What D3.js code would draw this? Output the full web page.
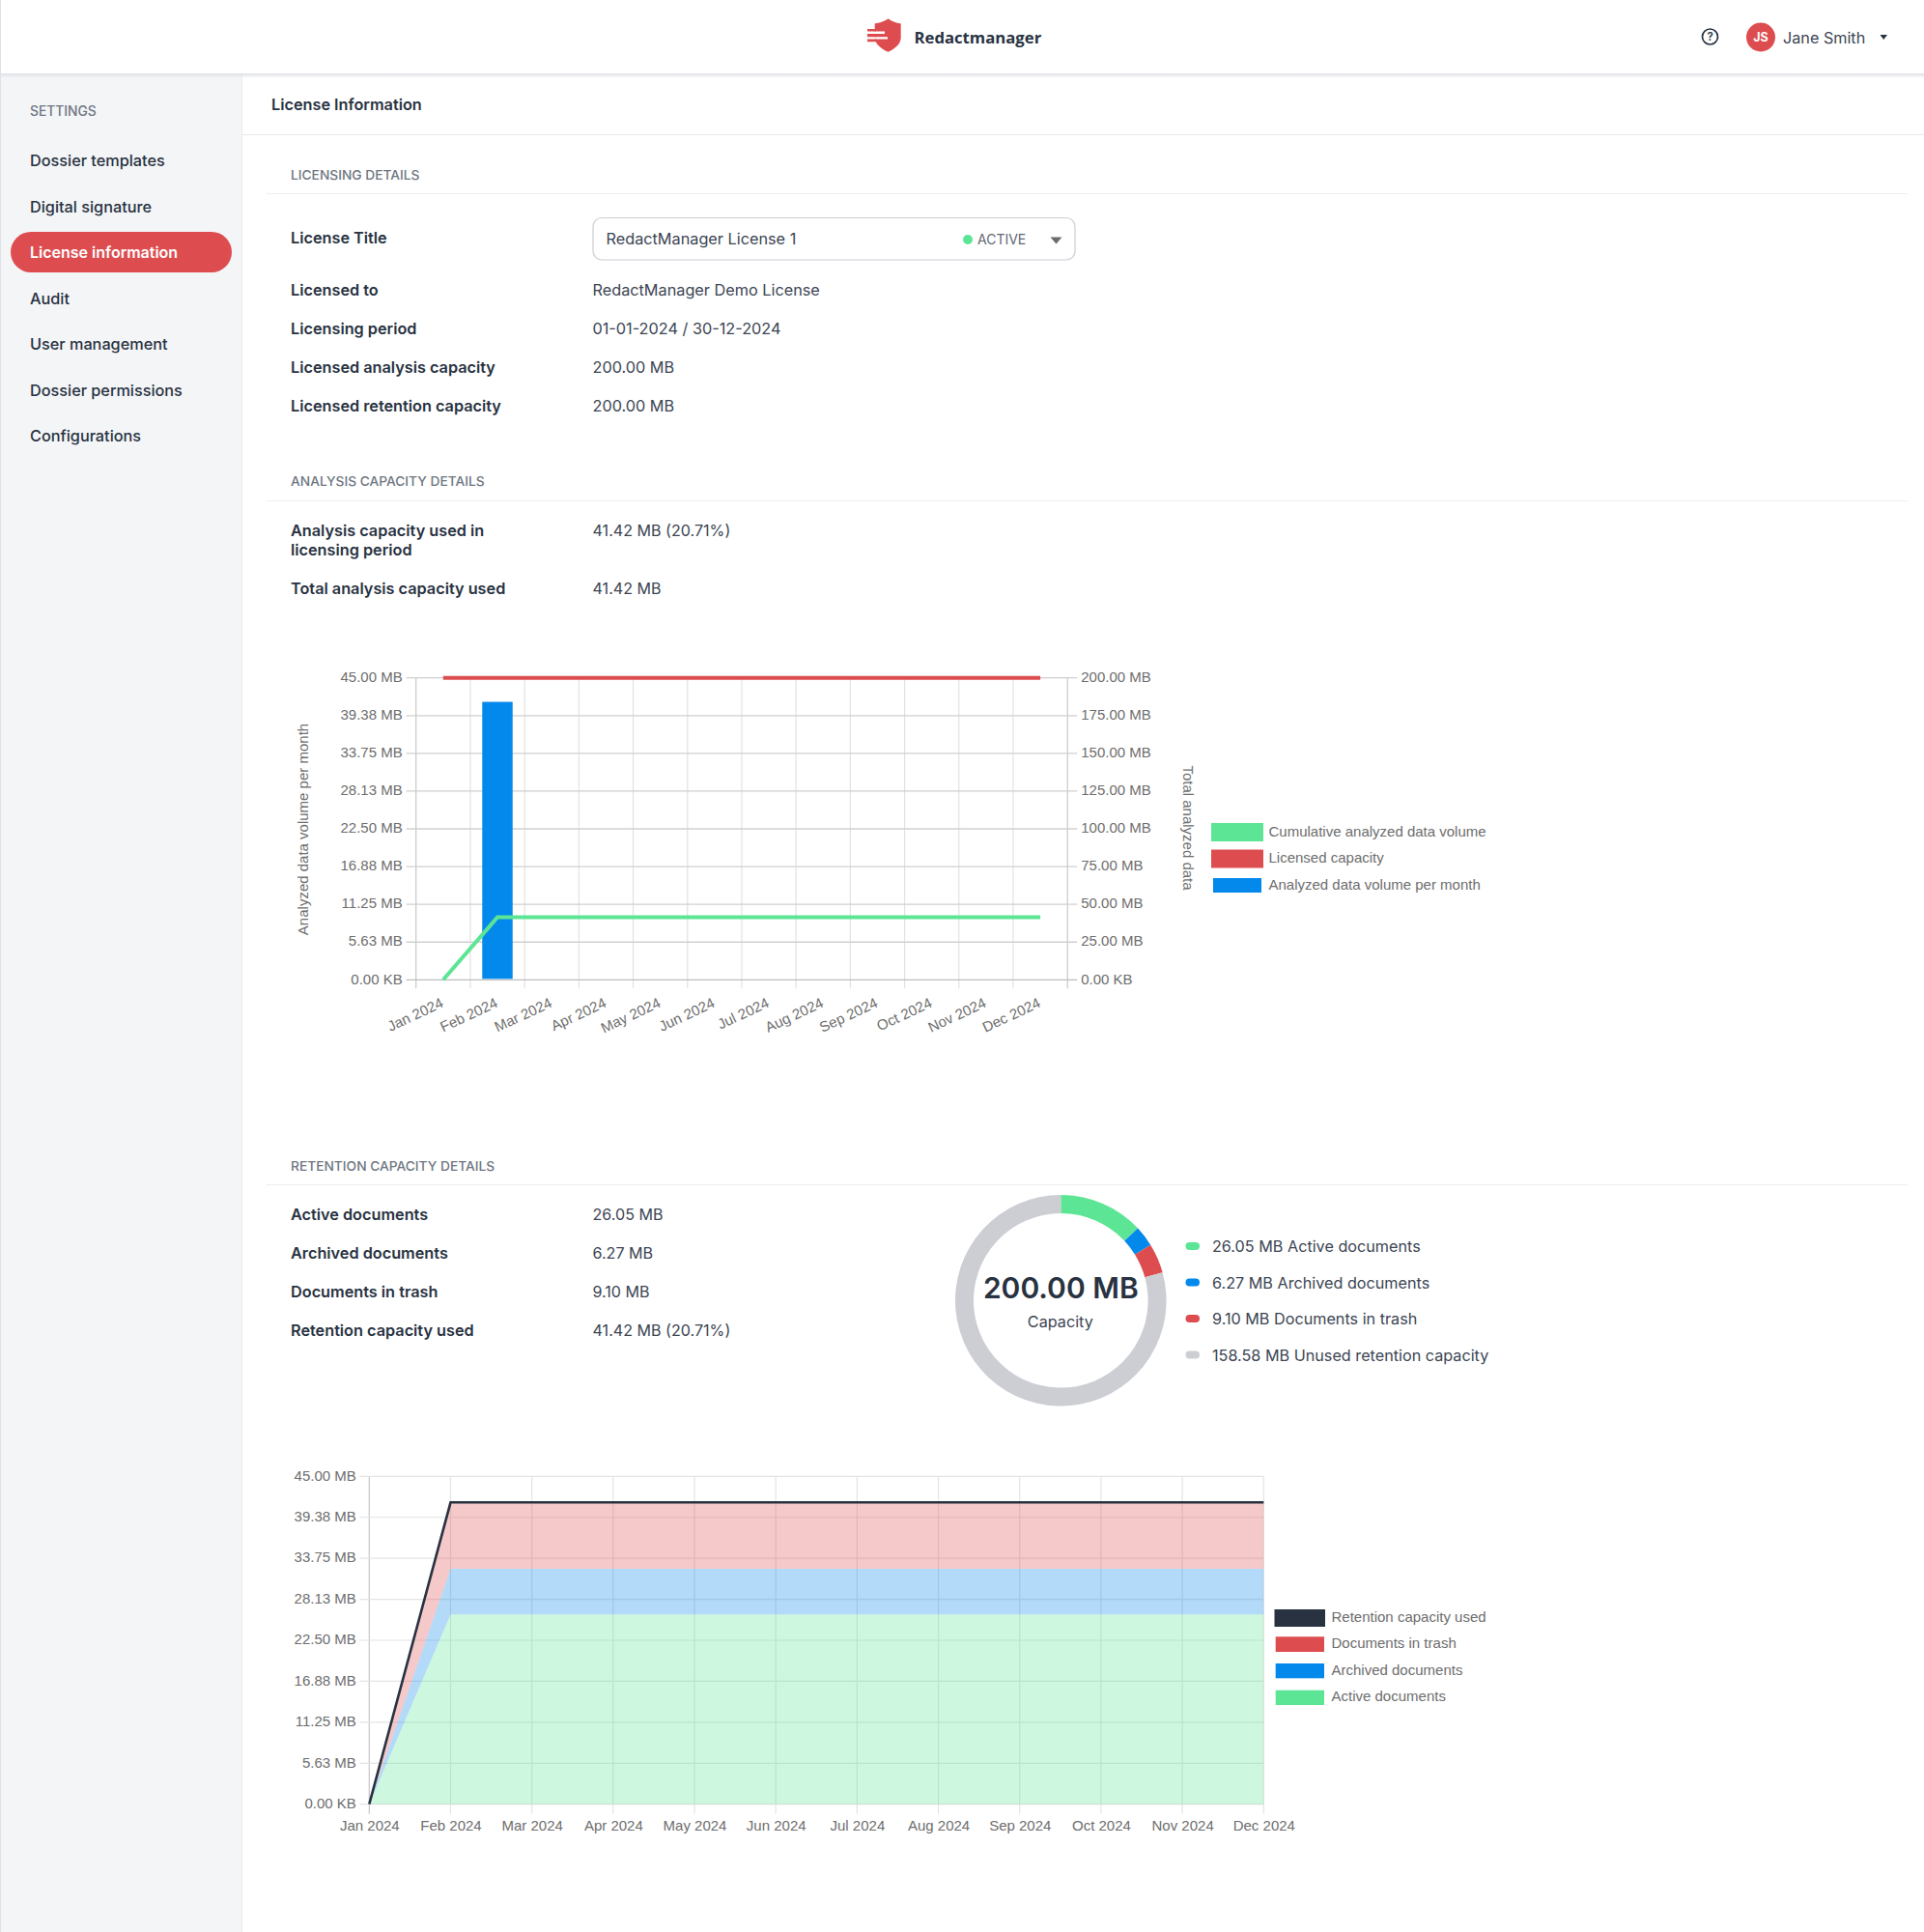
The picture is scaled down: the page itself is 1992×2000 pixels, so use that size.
<!DOCTYPE html>
<html><head><meta charset="utf-8">
<script src="https://cdn.jsdelivr.net/npm/d3@7"></script>
<style>
html,body{margin:0;padding:0;background:#fff;overflow:hidden}
svg{display:block}
text{font-family:Inter,"Noto Sans",sans-serif;fill:#283241}
.ct text,text.ct{font-family:"Liberation Sans",Arial,sans-serif;fill:#6e6e6e;font-size:15px}
.domain{display:none}
</style></head><body>
<svg id="page" width="1992" height="2000"></svg>
<script>
// ---------- chart data ----------
const months=["Jan 2024","Feb 2024","Mar 2024","Apr 2024","May 2024","Jun 2024","Jul 2024","Aug 2024","Sep 2024","Oct 2024","Nov 2024","Dec 2024"];
const leftTickValues=[0,5.625,11.25,16.875,22.5,28.125,33.75,39.375,45];
const leftTickLabels=["0.00 KB","5.63 MB","11.25 MB","16.88 MB","22.50 MB","28.13 MB","33.75 MB","39.38 MB","45.00 MB"];
const rightTickValues=[0,25,50,75,100,125,150,175,200];
const rightTickLabels=["0.00 KB","25.00 MB","50.00 MB","75.00 MB","100.00 MB","125.00 MB","150.00 MB","175.00 MB","200.00 MB"];
const monthlyVolume=[0,41.42,0,0,0,0,0,0,0,0,0,0];
const cumulativeVolume=[0,41.42,41.42,41.42,41.42,41.42,41.42,41.42,41.42,41.42,41.42,41.42];
const licensedCapacity=[200,200,200,200,200,200,200,200,200,200,200,200];
const activeDocs=[0,26.05,26.05,26.05,26.05,26.05,26.05,26.05,26.05,26.05,26.05,26.05];
const archivedDocs=[0,6.27,6.27,6.27,6.27,6.27,6.27,6.27,6.27,6.27,6.27,6.27];
const trashDocs=[0,9.10,9.10,9.10,9.10,9.10,9.10,9.10,9.10,9.10,9.10,9.10];
const retentionUsed=[0,41.42,41.42,41.42,41.42,41.42,41.42,41.42,41.42,41.42,41.42,41.42];
const donutLabels=["26.05 MB Active documents","6.27 MB Archived documents","9.10 MB Documents in trash","158.58 MB Unused retention capacity"];
const donutValues=[26.05,6.27,9.10,158.58];
const legend1Labels=["Cumulative analyzed data volume","Licensed capacity","Analyzed data volume per month"];
const legend2Labels=["Retention capacity used","Documents in trash","Archived documents","Active documents"];
// ---------- page text ----------
const navItems=["Dossier templates","Digital signature","License information","Audit","User management","Dossier permissions","Configurations"];
const licenseRows=[["Licensed to","RedactManager Demo License"],["Licensing period","01-01-2024 / 30-12-2024"],["Licensed analysis capacity","200.00 MB"],["Licensed retention capacity","200.00 MB"]];
const retentionRows=[["Active documents","26.05 MB"],["Archived documents","6.27 MB"],["Documents in trash","9.10 MB"],["Retention capacity used","41.42 MB (20.71%)"]];

const GREEN="#5ce594",RED="#dd4d50",BLUE="#0389ec",DARK="#283241",GREY="#ccced3",SOFT="#3c4553";
const BODY=16.25;
const svg=d3.select("#page");
function T(g,x,y,s,o={}){
  return g.append("text").attr("x",x).attr("y",y).attr("dy",".36em")
    .attr("font-size",o.size||BODY).attr("font-weight",o.w||400)
    .attr("text-anchor",o.a||"start").style("fill",o.fill||(o.w?DARK:SOFT)).text(s);
}
// ---------- chrome ----------
const defs=svg.append("defs");
const f=defs.append("linearGradient").attr("id","shadow").attr("x1",0).attr("x2",0).attr("y1",0).attr("y2",1);
f.append("stop").attr("offset",0).attr("stop-color","#dfe1e6");
f.append("stop").attr("offset",1).attr("stop-color","#dfe1e6").attr("stop-opacity",0);
svg.append("rect").attr("x",0).attr("y",76).attr("width",250.5).attr("height",1924).attr("fill","#f4f5f7");
svg.append("rect").attr("x",250).attr("y",76).attr("width",1).attr("height",1924).attr("fill","#e9ebee");
svg.append("rect").attr("x",0).attr("y",76).attr("width",1992).attr("height",5).attr("fill","url(#shadow)");
svg.append("rect").attr("x",0).attr("y",0).attr("width",1).attr("height",2000).attr("fill","#dfe1e6");
// header
const hd=svg.append("g");
hd.append("path").attr("fill",RED).attr("d","M919.5 19.3c3 2.6 8 4.4 13.2 5.2V39c0 6.5-6 11.5-13.2 14.7C912 50.5 906 45.5 905.7 39V24.5c5-.8 10.8-2.6 13.8-5.2z");
hd.append("path").attr("fill","#fff").attr("d","M898 32.6h18v2.4h-18zM898 38.2h21v2.4h-21z");
hd.append("path").attr("fill",RED).attr("d","M898 30h9v2.6h-9zM898 35h9v3.2h-9zM898 40.6h9v2.6h-9z");
T(hd,946.5,39,"Redactmanager",{size:16.7,w:700}).style("font-family","'Open Sans'");
hd.append("circle").attr("cx",1770.5).attr("cy",38).attr("r",8).attr("fill","none").attr("stroke",DARK).attr("stroke-width",1.7);
T(hd,1770.5,38,"?",{size:11.5,w:600,a:"middle"});
hd.append("circle").attr("cx",1823).attr("cy",38.5).attr("r",15).attr("fill",RED);
T(hd,1823,38.5,"JS",{size:12.5,w:700,a:"middle",fill:"#fff"});
T(hd,1846,39,"Jane Smith",{size:16.2});
hd.append("path").attr("fill",DARK).attr("d","M1946.5 36h7.5l-3.75 5z");
// sidebar
const sb=svg.append("g");
T(sb,31,115,"SETTINGS",{size:13.8,w:500,fill:"#6e7682"});
sb.append("rect").attr("x",11).attr("y",240).attr("width",229).attr("height",42).attr("rx",21).attr("fill",RED);
const navY=[166,214,261,309,356.5,404,451];
navItems.forEach((s,i)=>T(sb,31,navY[i],s,i==2?{size:16,w:600,fill:"#fff"}:{size:BODY,w:500}));
// main headers
const mn=svg.append("g");
T(mn,281,108,"License Information",{w:600});
mn.append("rect").attr("x",251).attr("y",139).attr("width",1741).attr("height",1).attr("fill","#e6e8eb");
function section(y,lineY,s){T(mn,301,y,s,{size:13.75,w:500,fill:"#6e7682"});mn.append("rect").attr("x",276).attr("y",lineY).attr("width",1699).attr("height",1).attr("fill","#eceef0");}
section(181,200,"LICENSING DETAILS");
section(498,518,"ANALYSIS CAPACITY DETAILS");
section(1207,1226,"RETENTION CAPACITY DETAILS");
T(mn,301,246,"License Title",{w:600});
mn.append("rect").attr("x",614).attr("y",225.5).attr("width",499).attr("height",43.5).attr("rx",9).attr("fill","#fff").attr("stroke","#ccced3").attr("stroke-width",1.2);
T(mn,627.5,247,"RedactManager License 1",{});
mn.append("circle").attr("cx",1002).attr("cy",248).attr("r",5).attr("fill",GREEN);
T(mn,1012,247.5,"ACTIVE",{size:14,w:400,fill:"#5f6773"});
mn.append("path").attr("fill","#6b6b6b").attr("d","M1087.5 245.5h12l-6 7z");
const rowY1=[300,340,380,420];
licenseRows.forEach((r,i)=>{T(mn,301,rowY1[i],r[0],{w:600});T(mn,613.5,rowY1[i],r[1],{});});
T(mn,301,549,"Analysis capacity used in",{w:600});
T(mn,301,569.5,"licensing period",{w:600});
T(mn,613.5,549,"41.42 MB (20.71%)",{size:16.1});
T(mn,301,609.5,"Total analysis capacity used",{w:600});
T(mn,613.5,609.5,"41.42 MB",{size:16.1});
const rowY2=[1257,1297,1337,1377.5];
retentionRows.forEach((r,i)=>{T(mn,301,rowY2[i],r[0],{w:600});T(mn,613.5,rowY2[i],r[1],{size:16.1});});

// ---------- chart 1: bars + lines ----------
(function(){
  const L=430.7,R=1105.2,Tp=701.7,B=1014.3;
  const g=svg.append("g").attr("class","ct");
  const x=d3.scaleBand().domain(months).range([L,R]).paddingInner(.44).paddingOuter(.22);
  const edge=d3.scalePoint().domain(d3.range(13)).range([L,R]);
  const yL=d3.scaleLinear().domain([0,45]).range([B,Tp]);
  const yR=d3.scaleLinear().domain([0,200]).range([B,Tp]);
  const cx=m=>x(m)+x.bandwidth()/2;
  // grids
  g.append("g").selectAll("line").data(d3.range(13)).join("line")
    .attr("x1",edge).attr("x2",edge).attr("y1",Tp).attr("y2",B+9)
    .attr("stroke",d=>d==0||d==12?"#c8c8c8":"#e2e2e2").attr("stroke-width",1.2);
  g.append("g").selectAll("line").data(rightTickValues).join("line")
    .attr("x1",L-10).attr("x2",R+10).attr("y1",yR).attr("y2",yR)
    .attr("stroke",d=>d==0?"#bdbdbd":"#d0d0d0").attr("stroke-width",1.3);
  // axes (labels)
  const aL=g.append("g").attr("transform",`translate(${L},0)`)
    .call(d3.axisLeft(yL).tickValues(leftTickValues).tickSize(0).tickPadding(14).tickFormat((d,i)=>leftTickLabels[i]));
  const aR=g.append("g").attr("transform",`translate(${R},0)`)
    .call(d3.axisRight(yR).tickValues(rightTickValues).tickSize(0).tickPadding(14).tickFormat((d,i)=>rightTickLabels[i]));
  [aL,aR].forEach(a=>a.selectAll("text").attr("font-size",15).attr("font-family",null).attr("dy",".25em"));
  const aX=g.append("g").attr("transform",`translate(0,${B})`)
    .call(d3.axisBottom(x).tickSize(0).tickPadding(0));
  aX.selectAll("text").attr("font-size",15).attr("font-family",null)
    .attr("text-anchor","end").attr("y",0).attr("dy",0)
    .attr("transform","translate(1.3,27.5) rotate(-25)");
  // bar
  g.append("g").selectAll("rect").data(months.map((m,i)=>({m,v:monthlyVolume[i]})).filter(d=>d.v>0)).join("rect")
    .attr("x",d=>x(d.m)).attr("width",x.bandwidth()).attr("y",d=>yL(d.v)).attr("height",d=>B-1-yL(d.v))
    .attr("fill",BLUE);
  const line=d3.line().x((d,i)=>cx(months[i])).y(d=>yR(d));
  g.append("path").datum(licensedCapacity).attr("d",line).attr("fill","none").attr("stroke",RED).attr("stroke-width",4);
  g.append("path").datum(cumulativeVolume).attr("d",line).attr("fill","none").attr("stroke",GREEN).attr("stroke-width",4);
  // axis titles
  g.append("text").attr("class","ct").attr("text-anchor","middle").attr("transform","translate(313.7,858.5) rotate(-90)").attr("dy",".36em").attr("font-size",15).text("Analyzed data volume per month");
  g.append("text").attr("class","ct").attr("text-anchor","middle").attr("transform","translate(1230.3,857) rotate(90)").attr("dy",".36em").attr("font-size",15).text("Total analyzed data");
  // legend
  const sw=[[1254,852,54,19,GREEN,861],[1254,879.5,54,19,RED,888],[1256,909,50,15,BLUE,916]];
  legend1Labels.forEach((s,i)=>{
    const q=sw[i];
    g.append("rect").attr("x",q[0]).attr("y",q[1]).attr("width",q[2]).attr("height",q[3]).attr("fill",q[4]);
    g.append("text").attr("x",1313.5).attr("y",q[5]).attr("dy",".34em").attr("font-size",15).text(s);
  });
})();

// ---------- donut ----------
(function(){
  const g=svg.append("g").attr("transform","translate(1098.3,1346.3)");
  const colors=[GREEN,BLUE,RED,GREY];
  const pie=d3.pie().sort(null)(donutValues);
  const arc=d3.arc().innerRadius(90.3).outerRadius(109.3);
  g.selectAll("path").data(pie).join("path").attr("d",arc).attr("fill",(d,i)=>colors[i]);
  T(g,0,-13,"200.00 MB",{size:30,w:600,a:"middle"});
  T(g,-.5,21.5,"Capacity",{size:16.2,a:"middle"});
  const lg=svg.append("g");
  const ys=[1290,1327.5,1365,1402.5];
  donutLabels.forEach((s,i)=>{
    lg.append("rect").attr("x",1227.5).attr("y",ys[i]-4).attr("width",14.5).attr("height",8).attr("rx",4).attr("fill",colors[i]);
    T(lg,1255,ys[i]+.5,s,{size:16.2});
  });
})();

// ---------- chart 2: stacked areas ----------
(function(){
  const L=382.3,R=1308.3,Tp=1528.3,B=1867.7;
  const g=svg.append("g").attr("class","ct");
  const x=d3.scalePoint().domain(months).range([L,R]);
  const y=d3.scaleLinear().domain([0,45]).range([B,Tp]);
  g.append("g").selectAll("line").data(months).join("line")
    .attr("x1",x).attr("x2",x).attr("y1",Tp).attr("y2",B+10)
    .attr("stroke",(d,i)=>i==0?"#c8c8c8":"#e4e4e4").attr("stroke-width",1.2);
  g.append("g").selectAll("line").data(leftTickValues).join("line")
    .attr("x1",L-10).attr("x2",R).attr("y1",y).attr("y2",y)
    .attr("stroke","#e4e4e4").attr("stroke-width",1.2);
  const aL=g.append("g").attr("transform",`translate(${L},0)`)
    .call(d3.axisLeft(y).tickValues(leftTickValues).tickSize(0).tickPadding(13.5).tickFormat((d,i)=>leftTickLabels[i]));
  aL.selectAll("text").attr("font-size",15).attr("font-family",null).attr("dy",".25em");
  const aX=g.append("g").attr("transform",`translate(0,${B})`)
    .call(d3.axisBottom(x).tickSize(0).tickPadding(17));
  aX.selectAll("text").attr("font-size",15).attr("font-family",null);
  const rows=months.map((m,i)=>({m,active:activeDocs[i],archived:archivedDocs[i],trash:trashDocs[i]}));
  const stack=d3.stack().keys(["active","archived","trash"])(rows);
  const area=d3.area().x(d=>x(d.data.m)).y0(d=>y(d[0])).y1(d=>y(d[1]));
  const cols={active:GREEN,archived:BLUE,trash:RED};
  g.append("g").selectAll("path").data(stack).join("path").attr("d",area)
    .attr("fill",d=>cols[d.key]).attr("fill-opacity",.3);
  g.append("path").datum(retentionUsed).attr("fill","none").attr("stroke",DARK).attr("stroke-width",2.6)
    .attr("d",d3.line().x((d,i)=>x(months[i])).y(d=>y(d)));
  const sw=[[1319.5,1666,52.5,18,DARK,1674],[1320.7,1694.3,50.3,15.7,RED,1701],[1320.7,1722,50.3,15.3,BLUE,1729],[1320.7,1749.7,50.3,15.3,GREEN,1756]];
  legend2Labels.forEach((s,i)=>{
    const q=sw[i];
    g.append("rect").attr("x",q[0]).attr("y",q[1]).attr("width",q[2]).attr("height",q[3]).attr("fill",q[4]);
    g.append("text").attr("x",1378.5).attr("y",q[5]).attr("dy",".34em").attr("font-size",15).text(s);
  });
})();
</script></body></html>
